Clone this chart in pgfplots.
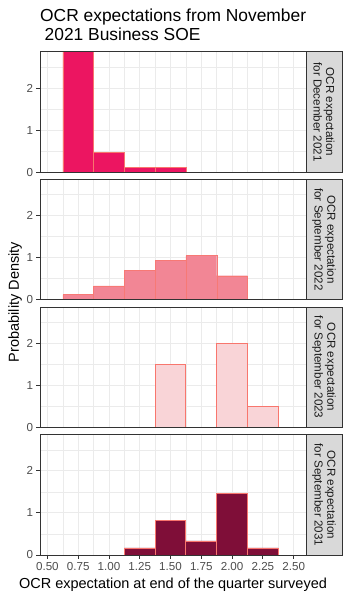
\documentclass[border=0pt]{standalone}
\usepackage{fontspec}
\setmainfont{Liberation Sans}
\usepackage{pgfplots}
\pgfplotsset{compat=1.18}
\definecolor{gridc}{HTML}{EBEBEB}
\definecolor{brd}{HTML}{333333}
\definecolor{tickc}{HTML}{4D4D4D}
\definecolor{stripc}{HTML}{D9D9D9}
\definecolor{stript}{HTML}{1A1A1A}
\definecolor{edgec}{HTML}{F8766D}
\definecolor{fillA}{HTML}{EC1561}
\definecolor{fillB}{HTML}{F28695}
\definecolor{fillC}{HTML}{F9D4D7}
\definecolor{fillD}{HTML}{7F0E38}
\pgfplotsset{
  panel/.style={
    scale only axis, width=266pt, height=120.3pt, anchor=south west,
    xmin=0.44, xmax=2.6, ymin=0, ymax=2.86,
    xtick={0.5,0.75,1,1.25,1.5,1.75,2,2.25,2.5},
    minor xtick={0.625,0.875,1.125,1.375,1.625,1.875,2.125,2.375},
    ytick={0,1,2}, minor ytick={0.5,1.5,2.5},
    grid=both,
    major grid style={gridc, line width=0.9pt},
    minor grid style={gridc, line width=0.45pt},
    axis line style={brd, line width=0.9pt},
    tick style={brd, line width=0.9pt},
    tick align=outside, major tick length=3.5pt, minor tick length=0pt,
    xtick pos=bottom, ytick pos=left,
    /pgf/number format/assume math mode=true,
    yticklabel style={font=\fontsize{11.6}{13}\selectfont, text=tickc},
    xticklabel style={font=\fontsize{11.6}{13}\selectfont, text=tickc,
      /pgf/number format/fixed, /pgf/number format/fixed zerofill, /pgf/number format/precision=2},
    ybar, bar width=0.25, bar shift=0pt,
  },
  nox/.style={xticklabels={}, xtick style={draw=none}},
}
\begin{document}
\begin{tikzpicture}
\path[use as bounding box] (0,0) rectangle (350pt,600pt);
% Panel 1
\begin{axis}[panel, nox, name=p1, at={(40pt,427.8pt)}]
\addplot[fill=fillA, draw=edgec, line width=0.4pt] coordinates {(0.75,3.29) (1.0,0.47) (1.25,0.12) (1.5,0.12)};
\end{axis}
% Panel 2
\begin{axis}[panel, nox, name=p2, at={(40pt,300.3pt)}]
\addplot[fill=fillB, draw=edgec!80!fillB, line width=0.4pt] coordinates {(0.75,0.12) (1.0,0.33) (1.25,0.69) (1.5,0.93) (1.75,1.05) (2.0,0.57)};
\end{axis}
% Panel 3
\begin{axis}[panel, nox, name=p3, at={(40pt,172.7pt)}]
\addplot[fill=fillC, draw=edgec, line width=0.9pt] coordinates {(1.5,1.5) (2.0,2.0) (2.25,0.5)};
\end{axis}
% Panel 4
\begin{axis}[panel, name=p4, at={(40pt,45pt)}]
\addplot[fill=fillD, draw=edgec, line width=0.9pt] coordinates {(1.25,0.167) (1.5,0.82) (1.75,0.333) (2.0,1.46) (2.25,0.167)};
\end{axis}
% borders and strips
\foreach \p/\lab in {p1/{for December 2021}, p2/{for September 2022}, p3/{for September 2023}, p4/{for September 2031}}{
  \draw[brd, line width=0.9pt] (\p.south west) rectangle (\p.north east);
  \draw[brd, line width=0.9pt, fill=stripc] (\p.south east) rectangle ([xshift=36pt]\p.north east);
  \node[rotate=-90, align=center, text=stript, font=\fontsize{11.6}{12.7}\selectfont, inner sep=0pt]
    at ([xshift=18pt]\p.east) {OCR expectation\\\lab};
}
% titles
\node[anchor=base west, inner sep=0pt, font=\fontsize{17.4}{20}\selectfont] at (40pt,578.3pt) {OCR expectations from November};
\node[anchor=base west, inner sep=0pt, font=\fontsize{17.4}{20}\selectfont] at (44.5pt,559.3pt) {2021 Business SOE};
\node[anchor=base, inner sep=0pt, font=\fontsize{14.5}{16}\selectfont] at (173pt,11pt) {OCR expectation at end of the quarter surveyed};
\node[rotate=90, anchor=base, inner sep=0pt, font=\fontsize{14.5}{16}\selectfont] at (19pt,298pt) {Probability Density};
\end{tikzpicture}
\end{document}
